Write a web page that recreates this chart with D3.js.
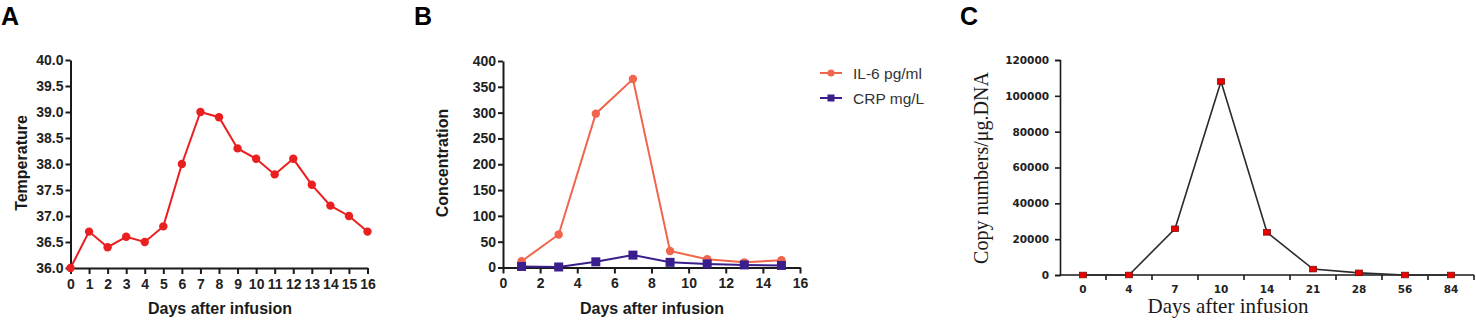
<!DOCTYPE html>
<html>
<head>
<meta charset="utf-8">
<script src="https://cdn.jsdelivr.net/npm/d3@7"></script>
<style>
  body { margin: 0; background: #fff; }
  svg { display: block; }
  .ab .domain, .ab .tick line { stroke: #1a1a1a; stroke-width: 2; }
  .ab .tick text { font-family: Arial, "Liberation Sans", sans-serif; font-weight: bold; font-size: 14px; fill: #222; }
  .cc .domain, .cc .tick line { stroke: #1a1a1a; stroke-width: 1.6; }
  .cc .tick text { font-family: "DejaVu Sans", sans-serif; font-weight: bold; font-size: 10.5px; fill: #222; }
</style>
</head>
<body>
<svg id="fig" width="1476" height="333"></svg>
<script>
// panel A - temperature
const diasA = [0, 1, 2, 3, 4, 5, 6, 7, 8, 9, 10, 11, 12, 13, 14, 15, 16]
const temperatura = [36.0, 36.7, 36.4, 36.6, 36.5, 36.8, 38.0, 39.0, 38.9, 38.3, 38.1, 37.8, 38.1, 37.6, 37.2, 37.0, 36.7]

// panel B - cytokines
const diasB = [1, 3, 5, 7, 9, 11, 13, 15]
const il6 = [12, 64, 298, 365, 32, 16, 10, 14]
const crp = [2, 1, 11, 24, 10, 7, 5, 4]
const legendaB = ['IL-6 pg/ml', 'CRP mg/L']

// panel C - copy numbers
const diasC = ['0', '4', '7', '10', '14', '21', '28', '56', '84']
const copias = [0, 0, 25800, 108000, 23800, 3300, 1200, 0, 0]

const svg = d3.select('#fig')
const boldFont = 'Arial, "Liberation Sans", sans-serif'

function letra (txt, x, y) {
    svg.append('text')
        .attr('x', x).attr('y', y)
        .attr('font-family', boldFont)
        .attr('font-weight', 'bold')
        .attr('font-size', 25)
        .attr('fill', '#000')
        .text(txt)
}

function rotulo (txt, x, y, rot, font, size, weight) {
    svg.append('text')
        .attr('transform', `translate(${x}, ${y}) rotate(${rot})`)
        .attr('text-anchor', 'middle')
        .attr('dominant-baseline', 'central')
        .attr('font-family', font)
        .attr('font-weight', weight)
        .attr('font-size', size)
        .attr('fill', '#1a1a1a')
        .text(txt)
}

/* ---------- A ---------- */
letra('A', 1, 25)
const xA = d3.scaleLinear().domain([0, 16]).range([70.5, 367.5])
const yA = d3.scaleLinear().domain([36, 40]).range([268, 60])
const gA = svg.append('g').attr('class', 'ab')

gA.append('g')
    .attr('transform', `translate(0, ${yA(36)})`)
    .call(d3.axisBottom(xA).tickValues(diasA).tickSize(6).tickSizeOuter(0).tickPadding(5).tickFormat(d3.format('d')))
gA.append('g')
    .attr('transform', `translate(${xA(0)}, 0)`)
    .call(d3.axisLeft(yA).ticks(8).tickSize(5).tickSizeOuter(0).tickPadding(2).tickFormat(d3.format('.1f')))

const corA = '#ea1f1f'
gA.append('path')
    .datum(diasA.map((d, i) => [d, temperatura[i]]))
    .attr('fill', 'none')
    .attr('stroke', corA)
    .attr('stroke-width', 2)
    .attr('d', d3.line().x(d => xA(d[0])).y(d => yA(d[1])))
gA.selectAll('circle.pa')
    .data(diasA.map((d, i) => [d, temperatura[i]]))
    .enter()
    .append('circle')
    .attr('cx', d => xA(d[0]))
    .attr('cy', d => yA(d[1]))
    .attr('r', 4.2)
    .attr('fill', corA)

rotulo('Temperature', 21, 163, -90, boldFont, 16, 'bold')
rotulo('Days after infusion', 220, 308, 0, boldFont, 16, 'bold')

/* ---------- B ---------- */
letra('B', 414, 25)
const xB = d3.scaleLinear().domain([0, 16]).range([503, 800])
const yB = d3.scaleLinear().domain([0, 400]).range([267.5, 61])
const gB = svg.append('g').attr('class', 'ab')

gB.append('g')
    .attr('transform', `translate(0, ${yB(0)})`)
    .call(d3.axisBottom(xB).ticks(8).tickSize(6).tickSizeOuter(0).tickPadding(5))
gB.append('g')
    .attr('transform', `translate(${xB(0)}, 0)`)
    .call(d3.axisLeft(yB).ticks(8).tickSize(5).tickSizeOuter(0).tickPadding(2))

const corIL = '#f0654b'
const corCRP = '#3a1f8c'
const lineB = d3.line().x(d => xB(d[0])).y(d => yB(d[1]))

const serieIL = diasB.map((d, i) => [d, il6[i]])
const serieCRP = diasB.map((d, i) => [d, crp[i]])

gB.append('path').datum(serieIL)
    .attr('fill', 'none').attr('stroke', corIL).attr('stroke-width', 2).attr('d', lineB)
gB.append('path').datum(serieCRP)
    .attr('fill', 'none').attr('stroke', corCRP).attr('stroke-width', 2).attr('d', lineB)
gB.selectAll('circle.il')
    .data(serieIL).enter().append('circle')
    .attr('cx', d => xB(d[0])).attr('cy', d => yB(d[1]))
    .attr('r', 4.2).attr('fill', corIL)
gB.selectAll('rect.crp')
    .data(serieCRP).enter().append('rect')
    .attr('x', d => xB(d[0]) - 4.5).attr('y', d => yB(d[1]) - 4.5)
    .attr('width', 9).attr('height', 9).attr('fill', corCRP)

/* legenda */
const leg = svg.append('g').attr('transform', 'translate(820, 73)')
legendaB.forEach((nome, i) => {
    const cor = i === 0 ? corIL : corCRP
    const row = leg.append('g').attr('transform', `translate(0, ${i * 25})`)
    row.append('line').attr('x1', 0).attr('x2', 22).attr('y1', 0).attr('y2', 0)
        .attr('stroke', cor).attr('stroke-width', 2)
    if (i === 0) {
        row.append('circle').attr('cx', 11).attr('cy', 0).attr('r', 3.5).attr('fill', cor)
    } else {
        row.append('rect').attr('x', 7.5).attr('y', -3.5).attr('width', 7).attr('height', 7).attr('fill', cor)
    }
    row.append('text').attr('x', 33).attr('y', 0)
        .attr('dominant-baseline', 'central')
        .attr('font-family', boldFont).attr('font-size', 15.5).attr('fill', '#333')
        .text(nome)
})

rotulo('Concentration', 442, 163, -90, boldFont, 16, 'bold')
rotulo('Days after infusion', 652, 308, 0, boldFont, 16, 'bold')

/* ---------- C ---------- */
letra('C', 960, 25)
const xC = d3.scaleBand().domain(diasC).range([1060, 1474]).paddingInner(0).paddingOuter(0)
const yC = d3.scaleLinear().domain([0, 120000]).range([275, 60])
const gC = svg.append('g').attr('class', 'cc')

gC.append('g')
    .attr('transform', `translate(0, ${yC(0)})`)
    .call(d3.axisBottom(xC).tickSize(0).tickPadding(11))
    .select('.domain').remove()
/* ticks nas divisas das categorias */
const divisas = diasC.map(d => xC(d) + xC.step())
gC.selectAll('line.div')
    .data(divisas).enter().append('line')
    .attr('x1', d => d).attr('x2', d => d)
    .attr('y1', yC(0)).attr('y2', yC(0) + 5)
    .attr('stroke', '#1a1a1a').attr('stroke-width', 1.6)
gC.append('line')
    .attr('x1', xC.range()[0]).attr('x2', xC.range()[1])
    .attr('y1', yC(0)).attr('y2', yC(0))
    .attr('stroke', '#1a1a1a').attr('stroke-width', 1.6)
gC.append('g')
    .attr('transform', `translate(${xC.range()[0]}, 0)`)
    .call(d3.axisLeft(yC).tickValues(d3.range(0, 120001, 20000)).tickSize(5).tickSizeOuter(5).tickPadding(6).tickFormat(d3.format('d')))

const serieC = diasC.map((d, i) => [d, copias[i]])
gC.append('path').datum(serieC)
    .attr('fill', 'none').attr('stroke', '#2b2b2b').attr('stroke-width', 1.6)
    .attr('d', d3.line().x(d => xC(d[0]) + xC.bandwidth() / 2).y(d => yC(d[1])))
gC.selectAll('rect.cp')
    .data(serieC).enter().append('rect')
    .attr('x', d => xC(d[0]) + xC.bandwidth() / 2 - 3.5)
    .attr('y', d => yC(d[1]) - 2.8)
    .attr('width', 7).attr('height', 5.6)
    .attr('fill', '#ee0000').attr('stroke', '#7a1010').attr('stroke-width', 0.8)

rotulo('Copy numbers/\u03bcg.DNA', 981, 168, -90, '"Liberation Serif", "Times New Roman", serif', 20, 'normal')
rotulo('Days after infusion', 1228, 306, 0, '"Liberation Serif", "Times New Roman", serif', 21, 'normal')
</script>
</body>
</html>
